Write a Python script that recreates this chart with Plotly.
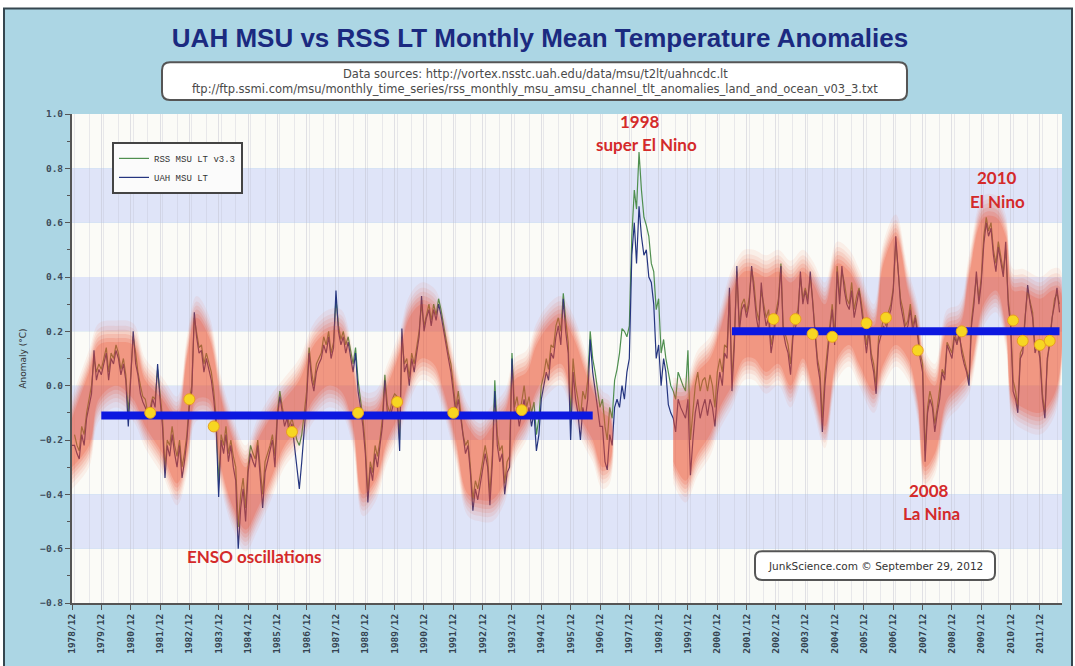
import plotly.graph_objects as go
import pandas as pd

# ---------------- data ----------------
uah_start = "1978-12-01"
uah = [
    -0.22,
    -0.22, -0.25, -0.27, -0.18, -0.22, -0.12, -0.08, -0.03, 0.13, 0.02, 0.06, 0.04,      # 1979
    0.08, 0.12, 0.02, 0.10, 0.08, 0.13, 0.10, 0.04, 0.08, 0.02, -0.15, 0.04,              # 1980
    0.20, 0.08, 0.04, -0.03, -0.06, -0.08, -0.12, -0.10, -0.05, -0.08, 0.08, -0.05,       # 1981
    -0.15, -0.34, -0.22, -0.26, -0.18, -0.25, -0.30, -0.22, -0.34, -0.28, -0.20, -0.08,   # 1982
    -0.02, 0.27, 0.18, 0.12, 0.13, 0.05, 0.10, 0.06, 0.02, -0.05, -0.15, -0.41,           # 1983
    -0.20, -0.25, -0.18, -0.28, -0.22, -0.30, -0.35, -0.60, -0.45, -0.38, -0.50, -0.32,   # 1984
    -0.25, -0.28, -0.30, -0.22, -0.35, -0.45, -0.32, -0.28, -0.25, -0.20, -0.30, -0.12,   # 1985
    -0.04, -0.10, -0.15, -0.12, -0.18, -0.14, -0.22, -0.30, -0.38, -0.28, -0.15, -0.05,   # 1986
    0.12, 0.02, -0.02, 0.05, 0.08, 0.10, 0.15, 0.12, 0.18, 0.10, 0.14, 0.35,              # 1987
    0.20, 0.15, 0.18, 0.12, 0.16, 0.10, 0.05, 0.12, -0.02, -0.08, -0.15, -0.25,           # 1988
    -0.43, -0.30, -0.35, -0.25, -0.30, -0.22, -0.15, 0.02, -0.10, -0.12, -0.08, -0.05,    # 1989
    -0.06, -0.24, 0.21, 0.05, 0.08, 0.00, 0.10, 0.05, 0.12, 0.18, 0.33, 0.20,             # 1990
    0.25, 0.28, 0.22, 0.28, 0.24, 0.30, 0.26, 0.20, 0.14, 0.10, 0.05, -0.02,              # 1991
    -0.10, -0.05, -0.12, -0.20, -0.25, -0.22, -0.32, -0.46, -0.38, -0.42, -0.36, -0.30,   # 1992
    -0.25, -0.30, -0.44, -0.28, -0.02, -0.22, -0.28, -0.25, -0.40, -0.32, -0.30, 0.10,    # 1993
    -0.12, -0.08, -0.15, -0.10, -0.05, -0.12, -0.08, -0.15, -0.10, -0.24, -0.18, -0.05,   # 1994
    0.00, 0.05, 0.02, 0.12, 0.10, 0.18, 0.22, 0.15, 0.32, 0.20, 0.12, -0.20,              # 1995
    0.05, -0.05, -0.10, -0.20, -0.08, -0.12, -0.05, 0.17, 0.05, -0.02, -0.10, -0.15,      # 1996
    -0.15, -0.28, -0.31, -0.18, -0.22, -0.08, -0.05, -0.08, 0.00, -0.05, 0.05, 0.10,      # 1997
    0.48, 0.60, 0.45, 0.66, 0.55, 0.48, 0.50, 0.40, 0.38, 0.30, 0.10, 0.15,               # 1998
    0.00, 0.10, 0.05, -0.07, -0.10, -0.12, -0.17, -0.05, -0.08, -0.10, -0.12, -0.05,      # 1999
    -0.33, -0.20, -0.10, -0.05, -0.12, -0.08, -0.05, -0.11, -0.05, -0.08, -0.15, -0.03,   # 2000
    0.05, 0.00, 0.12, 0.10, 0.36, -0.02, 0.15, 0.44, 0.20, 0.28, 0.30, 0.25,              # 2001
    0.30, 0.44, 0.35, 0.25, 0.20, 0.38, 0.28, 0.22, 0.25, 0.12, 0.18, 0.25,               # 2002
    0.30, 0.44, 0.20, 0.15, 0.12, 0.04, 0.18, 0.22, 0.25, 0.42, 0.30, 0.35,               # 2003
    0.30, 0.42, 0.30, 0.18, 0.08, 0.02, -0.17, 0.00, 0.12, 0.20, 0.28, 0.15,              # 2004
    0.42, 0.30, 0.44, 0.35, 0.30, 0.28, 0.35, 0.25, 0.30, 0.35, 0.28, 0.20,               # 2005
    0.12, 0.20, 0.10, 0.05, -0.03, 0.15, 0.18, 0.22, 0.20, 0.25, 0.28, 0.35,              # 2006
    0.55, 0.40, 0.30, 0.25, 0.20, 0.22, 0.28, 0.20, 0.25, 0.18, 0.10, 0.05,               # 2007
    -0.28, -0.10, -0.05, -0.08, -0.17, -0.10, -0.05, 0.05, 0.02, 0.15, 0.12, 0.10,        # 2008
    0.18, 0.15, 0.20, 0.12, 0.08, 0.05, 0.00, 0.22, 0.30, 0.42, 0.30, 0.38,               # 2009
    0.52, 0.60, 0.55, 0.58, 0.48, 0.42, 0.51, 0.45, 0.40, 0.53, 0.30, 0.22,               # 2010
    -0.02, -0.05, -0.10, 0.10, 0.12, 0.25, 0.37, 0.30, 0.25, 0.12, 0.15, 0.10,            # 2011
    -0.05, -0.12, 0.10, 0.15, 0.25, 0.30, 0.36, 0.27,                                     # 2012
]

rss_start = "1979-01-01"
rss = [
    -0.18, -0.22, -0.24, -0.15, -0.18, -0.10, -0.05, 0.00, 0.10, 0.05, 0.08, 0.06,       # 1979
    0.10, 0.14, 0.05, 0.12, 0.10, 0.15, 0.12, 0.06, 0.10, 0.04, -0.10, 0.06,              # 1980
    0.18, 0.12, 0.05, 0.00, -0.04, -0.05, -0.10, -0.08, -0.04, -0.05, 0.06, -0.03,        # 1981
    -0.12, -0.30, -0.20, -0.22, -0.15, -0.22, -0.26, -0.20, -0.30, -0.25, -0.18, -0.05,   # 1982
    0.00, 0.25, 0.20, 0.14, 0.15, 0.08, 0.12, 0.08, 0.05, -0.02, -0.12, -0.36,            # 1983
    -0.18, -0.22, -0.15, -0.25, -0.20, -0.26, -0.30, -0.52, -0.40, -0.34, -0.45, -0.30,   # 1984
    -0.22, -0.25, -0.27, -0.20, -0.30, -0.40, -0.28, -0.25, -0.22, -0.18, -0.26, -0.10,   # 1985
    -0.02, -0.08, -0.12, -0.10, -0.15, -0.12, -0.16, -0.20, -0.22, -0.18, -0.10, -0.02,   # 1986
    0.14, 0.05, 0.00, 0.08, 0.10, 0.12, 0.18, 0.15, 0.20, 0.12, 0.16, 0.32,               # 1987
    0.22, 0.17, 0.20, 0.15, 0.18, 0.12, 0.08, 0.14, 0.02, -0.05, -0.12, -0.22,            # 1988
    -0.40, -0.28, -0.32, -0.22, -0.26, -0.20, -0.12, 0.04, -0.07, -0.10, -0.05, -0.03,    # 1989
    -0.04, -0.20, 0.18, 0.08, 0.10, 0.03, 0.12, 0.08, 0.14, 0.20, 0.30, 0.22,             # 1990
    0.26, 0.30, 0.24, 0.30, 0.26, 0.32, 0.28, 0.22, 0.16, 0.12, 0.08, 0.00,               # 1991
    -0.08, -0.02, -0.10, -0.18, -0.22, -0.20, -0.30, -0.42, -0.35, -0.38, -0.33, -0.27,   # 1992
    -0.22, -0.27, -0.40, -0.25, 0.02, -0.18, -0.24, -0.22, -0.36, -0.28, -0.26, 0.12,     # 1993
    -0.08, -0.04, -0.10, -0.06, 0.00, -0.08, -0.04, -0.10, -0.06, -0.18, -0.12, 0.00,     # 1994
    0.04, 0.10, 0.06, 0.15, 0.14, 0.22, 0.25, 0.20, 0.34, 0.24, 0.16, -0.12,              # 1995
    0.10, 0.00, -0.05, -0.12, -0.02, -0.05, 0.02, 0.20, 0.10, 0.05, -0.02, -0.08,         # 1996
    -0.05, -0.15, -0.20, -0.08, -0.12, 0.02, 0.06, 0.12, 0.21, 0.20, 0.18, 0.22,          # 1997
    0.55, 0.72, 0.65, 0.86, 0.72, 0.62, 0.59, 0.55, 0.45, 0.42, 0.28, 0.32,               # 1998
    0.12, 0.17, 0.10, 0.05, 0.00, -0.02, -0.05, 0.05, 0.02, 0.00, -0.02, 0.13,            # 1999
    -0.20, -0.10, 0.00, 0.05, -0.02, 0.02, 0.03, -0.02, 0.04, 0.00, -0.08, 0.05,          # 2000
    0.10, 0.05, 0.15, 0.14, 0.33, 0.02, 0.18, 0.42, 0.22, 0.30, 0.32, 0.27,               # 2001
    0.32, 0.43, 0.38, 0.28, 0.24, 0.35, 0.30, 0.25, 0.28, 0.15, 0.20, 0.27,               # 2002
    0.32, 0.45, 0.22, 0.18, 0.15, 0.08, 0.20, 0.25, 0.28, 0.40, 0.32, 0.36,               # 2003
    0.32, 0.40, 0.32, 0.20, 0.10, 0.05, -0.12, 0.04, 0.14, 0.22, 0.30, 0.18,              # 2004
    0.44, 0.33, 0.42, 0.38, 0.32, 0.30, 0.38, 0.28, 0.33, 0.36, 0.30, 0.23,               # 2005
    0.15, 0.22, 0.12, 0.08, 0.00, 0.18, 0.20, 0.25, 0.22, 0.27, 0.30, 0.36,               # 2006
    0.53, 0.42, 0.32, 0.28, 0.22, 0.24, 0.30, 0.22, 0.26, 0.20, 0.12, 0.08,               # 2007
    -0.24, -0.08, -0.02, -0.06, -0.14, -0.08, -0.02, 0.06, 0.04, 0.16, 0.14, 0.12,        # 2008
    0.20, 0.16, 0.18, 0.14, 0.10, 0.06, 0.02, 0.24, 0.32, 0.40, 0.32, 0.40,               # 2009
    0.55, 0.62, 0.57, 0.60, 0.50, 0.45, 0.53, 0.47, 0.42, 0.50, 0.32, 0.24,               # 2010
    0.02, -0.02, -0.08, 0.12, 0.14, 0.26, 0.35, 0.31, 0.27, 0.14, 0.16, 0.12,             # 2011
    -0.03, -0.10, 0.08, 0.18, 0.26, 0.32, 0.34, 0.30,                                     # 2012
]

# hand-drawn "ENSO" highlight envelopes (lower / upper edge)
glow1_dates = ["1978-12-01", "1979-07-01", "1979-11-01", "1980-06-01", "1981-01-01", "1981-06-01",
               "1982-01-01", "1982-07-01", "1982-11-01", "1983-03-01", "1983-08-01", "1984-01-01",
               "1984-06-01", "1984-11-01", "1985-04-01", "1985-09-01", "1986-03-01", "1986-09-01",
               "1987-03-01", "1987-09-01", "1988-02-01", "1988-07-01", "1988-11-01", "1989-04-01",
               "1989-09-01", "1990-02-01", "1990-06-01", "1990-11-01", "1991-04-01", "1991-08-01",
               "1992-01-01", "1992-06-01", "1992-11-01", "1993-04-01", "1993-09-01", "1994-01-01",
               "1994-06-01", "1994-10-01", "1995-03-01", "1995-08-01", "1996-01-01", "1996-06-01",
               "1996-09-01", "1997-01-01", "1997-04-01"]
glow1_lo = [-0.30, -0.22, -0.05, 0.00, -0.05, -0.15, -0.25, -0.36, -0.25, -0.05, -0.05, -0.30,
            -0.45, -0.53, -0.45, -0.35, -0.22, -0.15, -0.05, 0.00, -0.02, -0.15, -0.40, -0.35,
            -0.20, -0.10, 0.02, 0.10, 0.08, -0.02, -0.20, -0.40, -0.42, -0.42, -0.35, -0.20,
            -0.12, -0.02, 0.05, 0.08, -0.05, -0.15, -0.20, -0.30, -0.28]
glow1_hi = [-0.12, 0.05, 0.15, 0.16, 0.15, 0.02, -0.05, -0.12, 0.10, 0.25, 0.18, -0.05,
            -0.20, -0.30, -0.20, -0.12, -0.05, 0.02, 0.15, 0.20, 0.20, 0.05, -0.10, -0.10,
            0.00, 0.12, 0.25, 0.30, 0.28, 0.20, 0.00, -0.15, -0.20, -0.15, -0.10, 0.02,
            0.05, 0.15, 0.22, 0.25, 0.18, 0.05, -0.02, -0.10, -0.12]

glow2_dates = ["1999-06-01", "1999-11-01", "2000-04-01", "2000-09-01", "2001-01-01", "2001-06-01",
               "2001-11-01", "2002-03-01", "2002-08-01", "2003-01-01", "2003-06-01", "2003-11-01",
               "2004-03-01", "2004-08-01", "2005-01-01", "2005-06-01", "2005-10-01", "2006-04-01",
               "2006-08-01", "2007-01-01", "2007-06-01", "2007-10-01", "2008-01-01", "2008-05-01",
               "2008-10-01", "2009-03-01", "2009-07-01", "2010-01-01", "2010-06-01", "2010-10-01",
               "2011-01-01", "2011-05-01", "2011-12-01", "2012-05-01", "2012-08-01"]
glow2_lo = [-0.28, -0.35, -0.25, -0.18, -0.08, 0.00, 0.10, 0.10, 0.05, 0.08, 0.00, 0.10,
            0.00, -0.15, 0.10, 0.15, 0.08, -0.02, 0.08, 0.15, 0.10, -0.05, -0.30, -0.25,
            -0.05, 0.00, 0.05, 0.30, 0.35, 0.22, -0.05, -0.08, -0.10, -0.05, 0.05]
glow2_hi = [-0.05, -0.05, 0.05, 0.10, 0.20, 0.35, 0.42, 0.42, 0.40, 0.42, 0.38, 0.42,
            0.38, 0.30, 0.45, 0.42, 0.35, 0.22, 0.45, 0.55, 0.35, 0.22, 0.05, 0.00,
            0.20, 0.22, 0.40, 0.62, 0.62, 0.55, 0.35, 0.35, 0.32, 0.35, 0.35]

# thick blue "plateau" levels
level1_dates = ["1979-12-01", "1996-09-01"]
level1_value = -0.11
level2_dates = ["2001-06-01", "2012-08-01"]
level2_value = 0.20

# yellow markers
dot_dates = ["1981-08-01", "1982-12-01", "1983-10-01", "1986-06-01", "1988-09-01", "1990-01-01",
             "1991-12-01", "1994-04-01", "2002-11-01", "2003-08-01", "2004-03-01", "2004-11-01",
             "2006-01-01", "2006-09-01", "2007-10-01", "2009-04-01", "2011-01-01", "2011-05-01",
             "2011-12-01", "2012-04-01"]
dot_values = [-0.10, -0.05, -0.15, -0.17, -0.10, -0.06, -0.10, -0.09, 0.245, 0.245, 0.19, 0.18,
              0.23, 0.25, 0.13, 0.20, 0.24, 0.165, 0.15, 0.165]

tick_start = "1978-12-01"
x_range = ["1978-12-01", "2012-09-01"]
y_range = [-0.8, 1.0]

# ---------------- layout geometry ----------------
W, H = 1075, 666
ML, MR, MT, MB = 72, 13, 114, 61
PW, PH = W - ML - MR, H - MT - MB


def px(x):
    return (x - ML) / PW


def py(y):
    return (H - MB - y) / PH


def rounded(x0, y0, x1, y1, r):
    def P(x, y):
        return f"{px(x):.5f},{py(y):.5f}"
    return (f"M {P(x0 + r, y0)} L {P(x1 - r, y0)} Q {P(x1, y0)} {P(x1, y0 + r)} "
            f"L {P(x1, y1 - r)} Q {P(x1, y1)} {P(x1 - r, y1)} L {P(x0 + r, y1)} "
            f"Q {P(x0, y1)} {P(x0, y1 - r)} L {P(x0, y0 + r)} Q {P(x0, y0)} {P(x0 + r, y0)} Z")


uah_dates = pd.date_range(uah_start, periods=len(uah), freq="MS")
rss_dates = pd.date_range(rss_start, periods=len(rss), freq="MS")

fig = go.Figure()

fig.add_trace(go.Scatter(x=rss_dates, y=rss, mode="lines", name="RSS MSU LT v3.3",
                         line=dict(color="#4f8f4f", width=1.2)))
fig.add_trace(go.Scatter(x=uah_dates, y=uah, mode="lines", name="UAH MSU LT",
                         line=dict(color="#25357f", width=1.2)))

# glow highlight layers (soft edges)
for dates, lo, hi in [(glow1_dates, glow1_lo, glow1_hi), (glow2_dates, glow2_lo, glow2_hi)]:
    for e, a in [(0.08, 0.07), (0.06, 0.09), (0.045, 0.11), (0.03, 0.14), (0.015, 0.17), (0.0, 0.21)]:
        xs = list(dates) + list(dates)[::-1]
        ys = [h + e for h in hi] + [l - e for l in lo][::-1]
        fig.add_trace(go.Scatter(x=xs, y=ys, mode="lines", fill="toself",
                                 fillcolor=f"rgba(235,78,48,{a})",
                                 line=dict(width=0, shape="spline", smoothing=1.0),
                                 showlegend=False, hoverinfo="skip"))

for d, v in [(level1_dates, level1_value), (level2_dates, level2_value)]:
    fig.add_trace(go.Scatter(x=d, y=[v, v], mode="lines", line=dict(color="#0c18e0", width=8),
                             showlegend=False, hoverinfo="skip"))

fig.add_trace(go.Scatter(x=dot_dates, y=dot_values, mode="markers",
                         marker=dict(size=11, color="#f7d622", line=dict(color="#e8a020", width=1)),
                         showlegend=False, hoverinfo="skip"))

shapes = []
# outer light-blue frame
shapes.append(dict(type="rect", xref="paper", yref="paper", x0=px(4), x1=px(1072), y0=py(672), y1=py(8),
                   fillcolor="#acd6e4", line=dict(color="#35464f", width=2), layer="below"))
# plot background bands
for lo, hi in [(-0.8, -0.6), (-0.4, -0.2), (0.0, 0.2), (0.4, 0.6), (0.8, 1.0)]:
    shapes.append(dict(type="rect", xref="paper", yref="y", x0=0, x1=1, y0=lo, y1=hi,
                       fillcolor="#fbfbf7", line=dict(width=0), layer="below"))
for lo, hi in [(-0.6, -0.4), (-0.2, 0.0), (0.2, 0.4), (0.6, 0.8)]:
    shapes.append(dict(type="rect", xref="paper", yref="y", x0=0, x1=1, y0=lo, y1=hi,
                       fillcolor="#dfe4f8", line=dict(width=0), layer="below"))
# data-source box and credit box
shapes.append(dict(type="path", xref="paper", yref="paper", path=rounded(162, 62, 907, 100, 8),
                   fillcolor="white", line=dict(color="#555", width=2), layer="above"))
shapes.append(dict(type="path", xref="paper", yref="paper", path=rounded(755, 553, 995, 582, 7),
                   fillcolor="white", line=dict(color="#555", width=2), layer="above"))

red = "#d42a2a"
redfont = dict(family="Lato, Open Sans, sans-serif", size=17, color=red, weight="bold")
small = dict(family="DejaVu Sans, sans-serif", size=11.5, color="#4a4a4a")
annotations = [
    dict(x=px(535), y=py(73.5), text="Data sources: http://vortex.nsstc.uah.edu/data/msu/t2lt/uahncdc.lt", font=small),
    dict(x=px(535), y=py(88.5),
         text="ftp://ftp.ssmi.com/msu/monthly_time_series/rss_monthly_msu_amsu_channel_tlt_anomalies_land_and_ocean_v03_3.txt",
         font=small),
    dict(x=px(875), y=py(567.5), text="JunkScience.com © September 29, 2012",
         font=dict(family="DejaVu Sans, sans-serif", size=10.5, color="#333")),
    dict(x=px(640), y=py(122), text="1998", font=redfont),
    dict(x=px(646), y=py(145), text="super El Nino", font=redfont),
    dict(x=px(997), y=py(178), text="2010", font=redfont),
    dict(x=px(997), y=py(202), text="El Nino", font=redfont),
    dict(x=px(929), y=py(492), text="2008", font=redfont),
    dict(x=px(931), y=py(515), text="La Nina", font=redfont),
    dict(x=px(254), y=py(558), text="ENSO oscillations", font=redfont),
]
for a in annotations:
    a.update(xref="paper", yref="paper", showarrow=False, xanchor="center", yanchor="middle")

fig.update_layout(
    width=W, height=H,
    margin=dict(l=ML, r=MR, t=MT, b=MB, pad=0),
    paper_bgcolor="white", plot_bgcolor="white",
    title=dict(text="UAH MSU vs RSS LT Monthly Mean Temperature Anomalies",
               x=540 / W, xref="container", xanchor="center",
               y=1 - 38 / H, yref="container", yanchor="middle",
               font=dict(family="Liberation Sans, Arial, sans-serif", size=26, color="#1b2a80", weight="bold")),
    shapes=shapes,
    annotations=annotations,
    showlegend=True,
    legend=dict(x=px(112), y=py(142), xanchor="left", yanchor="top",
                bgcolor="#fbfbfb", bordercolor="#444", borderwidth=2,
                font=dict(family="Liberation Mono, DejaVu Sans Mono, monospace", size=9, color="#333"),
                itemwidth=30, tracegroupgap=0),
    xaxis=dict(type="date", range=x_range, tick0=tick_start, dtick="M12", tickformat="%Y/%m",
               tickangle=-90, ticks="outside", ticklen=5, tickcolor="#555",
               showline=True, linecolor="#555", linewidth=2,
               showgrid=True, gridcolor="rgba(190,190,205,0.45)", gridwidth=1,
               minor=dict(dtick="M6", showgrid=True, gridcolor="rgba(190,190,205,0.3)"),
               tickfont=dict(family="DejaVu Sans Mono, monospace", size=9.5, color="#33414f", weight="bold"),
               zeroline=False),
    yaxis=dict(range=y_range, dtick=0.2, tick0=-0.8, tickformat=".1f",
               ticks="outside", ticklen=5, tickcolor="#555",
               showline=True, linecolor="#555", linewidth=2,
               minor=dict(dtick=0.1, ticks="outside", ticklen=3, tickcolor="#555", showgrid=False),
               showgrid=False, zeroline=False,
               tickfont=dict(family="DejaVu Sans Mono, monospace", size=9.5, color="#3d4b5a", weight="bold"),
               title=dict(text="Anomaly (°C)", standoff=12,
                          font=dict(family="DejaVu Sans, sans-serif", size=9, color="#333"))),
)

fig.write_html("out.html", config={"displayModeBar": False})

# remove the default page margin so the figure sits at the window origin
with open("out.html", "r", encoding="utf-8") as f:
    html = f.read()
html = html.replace("<head>", "<head><style>html,body{margin:0;padding:0;overflow:hidden;}</style>", 1)
with open("out.html", "w", encoding="utf-8") as f:
    f.write(html)
